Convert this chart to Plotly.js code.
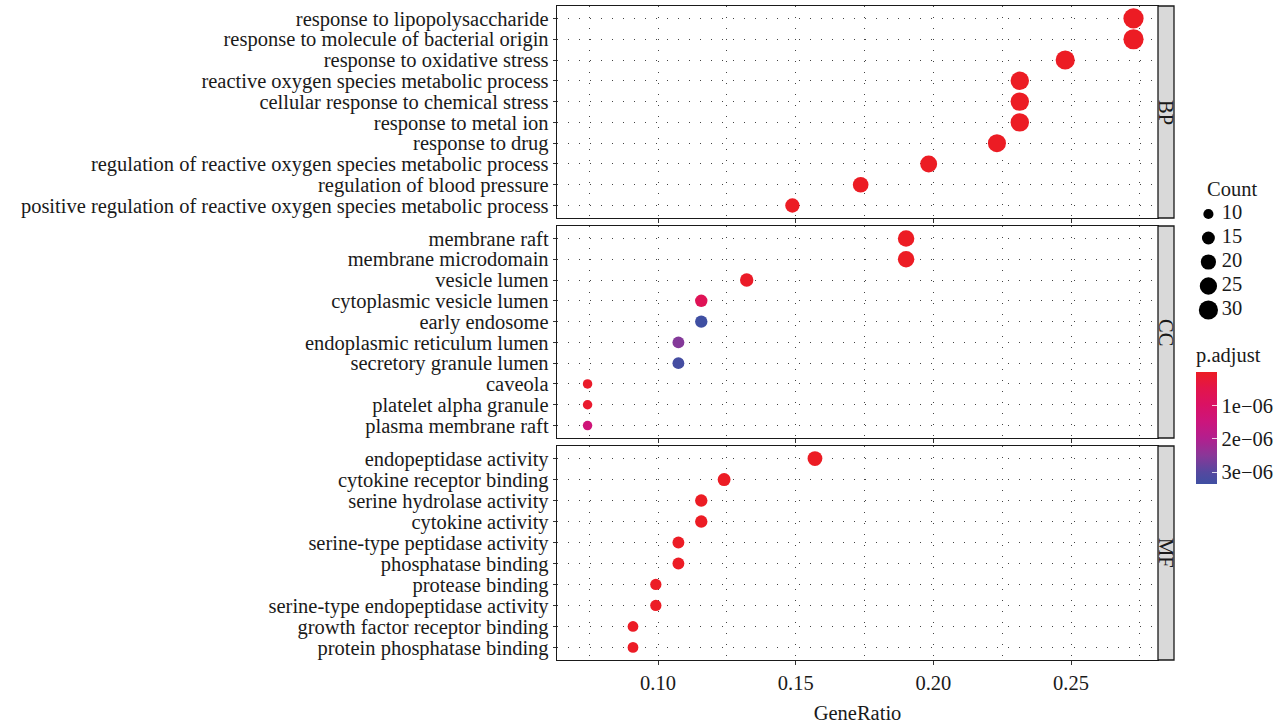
<!DOCTYPE html>
<html>
<head>
<meta charset="utf-8">
<script src="https://cdn.plot.ly/plotly-3.0.1.min.js"></script>
<style>html,body{margin:0;padding:0;background:#fff;}#chart{width:1287px;height:727px;}</style>
</head>
<body>
<div id="chart"></div>
<script>
// ---- data (top-to-bottom order within each panel) ----
const bpTerms = ["response to lipopolysaccharide","response to molecule of bacterial origin","response to oxidative stress","reactive oxygen species metabolic process","cellular response to chemical stress","response to metal ion","response to drug","regulation of reactive oxygen species metabolic process","regulation of blood pressure","positive regulation of reactive oxygen species metabolic process"];
const bpRatio = [0.2727,0.2727,0.2479,0.2314,0.2314,0.2314,0.2231,0.1983,0.1736,0.1488];
const bpCount = [33,33,30,28,28,28,27,24,21,18];
const bpPadj  = [1.1e-14,1.3e-14,2.0e-12,3.0e-12,5.0e-12,6.0e-12,8.0e-11,2.0e-10,4.0e-9,1.0e-9];

const ccTerms = ["membrane raft","membrane microdomain","vesicle lumen","cytoplasmic vesicle lumen","early endosome","endoplasmic reticulum lumen","secretory granule lumen","caveola","platelet alpha granule","plasma membrane raft"];
const ccRatio = [0.1901,0.1901,0.1322,0.1157,0.1157,0.1074,0.1074,0.0744,0.0744,0.0744];
const ccCount = [23,23,16,14,14,13,13,9,9,9];
const ccPadj  = [2.0e-9,2.0e-9,5.0e-8,7.0e-7,3.35e-6,2.55e-6,3.25e-6,8.0e-8,1.2e-7,1.4e-6];

const mfTerms = ["endopeptidase activity","cytokine receptor binding","serine hydrolase activity","cytokine activity","serine-type peptidase activity","phosphatase binding","protease binding","serine-type endopeptidase activity","growth factor receptor binding","protein phosphatase binding"];
const mfRatio = [0.1570,0.1240,0.1157,0.1157,0.1074,0.1074,0.0992,0.0992,0.0909,0.0909];
const mfCount = [19,15,14,14,13,13,12,12,11,11];
const mfPadj  = [1.0e-10,3.0e-9,5.0e-9,6.0e-9,8.0e-9,9.0e-9,1.0e-8,1.2e-8,2.0e-8,2.5e-8];

const panelNames = ["BP","CC","MF"];
const xTickVals = [0.10,0.15,0.20,0.25];
const xTickText = ["0.10","0.15","0.20","0.25"];
const countBreaks = [10,15,20,25,30];
const padjTickVals = [1e-6,2e-6,3e-6];
const padjTickText = ["1e\u221206","2e\u221206","3e\u221206"];

// ---- styling ----
const FONT = "Liberation Serif, Times New Roman, serif";
const FS = 20.5;
const TXT = '#1a1a1a';
const sizeOf = c => -2.2 + 3.9*Math.sqrt(c);
const allP = bpPadj.concat(ccPadj, mfPadj);
const pMax = Math.max(...allP), pMin = Math.min(...allP);
const colorscale = [
  [0.000,'#3F4FA2'],[0.105,'#55489F'],[0.256,'#8A3798'],[0.407,'#B21F8E'],
  [0.557,'#CC157C'],[0.708,'#DA1164'],[0.858,'#E3154A'],[1.000,'#EC1C24']
];

const W = 1287, H = 727;
const mL = 557, mR = 10, mT = 6, mB = 67;
const plotW = W - mL - mR, plotH = H - mT - mB;
const xEnd = 601/plotW;
const stripEnd = 617/plotW;
const pxX = px => (px - mL)/plotW;
const pxY = py => 1 - (py - mT)/plotH;
const domains = [[pxY(218), pxY(6)], [pxY(438), pxY(226)], [pxY(660), pxY(446)]];

const panels = [
  {terms:bpTerms, ratio:bpRatio, count:bpCount, padj:bpPadj},
  {terms:ccTerms, ratio:ccRatio, count:ccCount, padj:ccPadj},
  {terms:mfTerms, ratio:mfRatio, count:mfCount, padj:mfPadj}
];
const sfx = ["3","2",""];

const traces = [];
const layout = {
  width: W, height: H,
  margin: {l:mL, r:mR, t:mT, b:mB},
  paper_bgcolor:'#fff', plot_bgcolor:'#fff',
  showlegend:false,
  font:{family:FONT, color:TXT, size:FS},
  shapes:[], annotations:[]
};

panels.forEach((p, i) => {
  const s = sfx[i];
  traces.push({
    type:'scatter', mode:'markers',
    x:p.ratio, y:p.terms,
    xaxis:'x'+s, yaxis:'y'+s,
    marker:{
      size:p.count.map(sizeOf), sizemode:'diameter', opacity:1,
      color:p.padj.map(v => -v),
      cmin:-pMax, cmax:-pMin, colorscale:colorscale,
      showscale: i===0,
      colorbar: i===0 ? {
        x:pxX(1196), xanchor:'left', xpad:0,
        y:pxY(484), yanchor:'bottom', ypad:0,
        thickness:21, thicknessmode:'pixels',
        len:140, lenmode:'pixels',
        outlinewidth:0,
        tickvals:padjTickVals.map(v=>-v), ticktext:padjTickText,
        ticks:'inside', ticklen:5, tickcolor:'rgba(255,255,255,0.8)', tickwidth:1,
        tickfont:{family:FONT, size:FS, color:TXT},
        title:{text:'p.adjust', side:'top', font:{family:FONT, size:FS, color:TXT}}
      } : undefined,
      line:{width:0}
    },
    hoverinfo:'x+y'
  });
  const xa = {
    domain:[0, xEnd], range:[0.0633, 0.2816], anchor:'y'+s,
    tickmode:'array', tickvals:xTickVals, ticktext:xTickText,
    showticklabels: s==='',
    ticks:'outside', ticklen:4, tickcolor:'#333', tickwidth:1,
    showline:true, mirror:true, linecolor:TXT, linewidth:1.3,
    showgrid:true, gridcolor:'#444', gridwidth:1, griddash:'1px,10px',
    minor:{dtick:0.05, tick0:0.075, showgrid:true, gridcolor:'#444', gridwidth:1, griddash:'1px,10px', ticks:''},
    zeroline:false,
    tickfont:{family:FONT, size:FS, color:TXT}
  };
  if (s==='') xa.title = {text:'GeneRatio', font:{family:FONT, size:FS, color:TXT}, standoff:12};
  else xa.matches = 'x';
  layout['xaxis'+s] = xa;
  layout['yaxis'+s] = {
    domain:domains[i], anchor:'x'+s,
    type:'category', categoryarray:p.terms, categoryorder:'array',
    tickmode:'array', tickvals:p.terms, ticktext:p.terms,
    range:[9.6,-0.6],
    ticks:'outside', ticklen:3, tickcolor:'#333', tickwidth:1,
    showline:true, mirror:true, linecolor:TXT, linewidth:1.3,
    showgrid:true, gridcolor:'#444', gridwidth:1, griddash:'1px,10px',
    zeroline:false,
    tickfont:{family:FONT, size:FS, color:TXT}
  };
  layout.shapes.push({type:'rect', xref:'paper', yref:'paper', x0:xEnd, x1:stripEnd,
    y0:domains[i][0], y1:domains[i][1], fillcolor:'#D9D9D9', line:{color:TXT, width:1.3}, layer:'above'});
  layout.annotations.push({xref:'paper', yref:'paper', x:(xEnd+stripEnd)/2, y:(domains[i][0]+domains[i][1])/2,
    text:panelNames[i], textangle:90, showarrow:false, font:{family:FONT, size:FS, color:TXT},
    xanchor:'center', yanchor:'middle'});
});

// size legend: keys and labels on their own hidden axes
traces.push({
  type:'scatter', mode:'markers',
  x:countBreaks.map(()=>0), y:countBreaks.map(String),
  marker:{size:countBreaks.map(sizeOf), color:'#000', opacity:1, line:{width:0}},
  xaxis:'x4', yaxis:'y4', hoverinfo:'skip', cliponaxis:false
});
traces.push({
  type:'scatter', mode:'text',
  x:countBreaks.map(()=>1), y:countBreaks.map(String),
  text:countBreaks.map(String), textposition:'middle right',
  textfont:{family:FONT, size:FS, color:TXT},
  xaxis:'x4', yaxis:'y4', hoverinfo:'skip', cliponaxis:false
});
layout.xaxis4 = {domain:[pxX(1199), pxX(1280)], range:[-0.7, 5.1], visible:false, fixedrange:true, anchor:'y4'};
layout.yaxis4 = {domain:[pxY(322), pxY(202)], type:'category', categoryarray:countBreaks.map(String).reverse(),
  categoryorder:'array', range:[-0.5,4.5], visible:false, fixedrange:true, anchor:'x4'};
layout.annotations.push({xref:'paper', yref:'paper', x:pxX(1205), y:pxY(189), text:'Count',
  showarrow:false, xanchor:'left', yanchor:'middle', font:{family:FONT, size:FS, color:TXT}});

Plotly.newPlot('chart', traces, layout, {displayModeBar:false, staticPlot:true});
</script>
</body>
</html>
